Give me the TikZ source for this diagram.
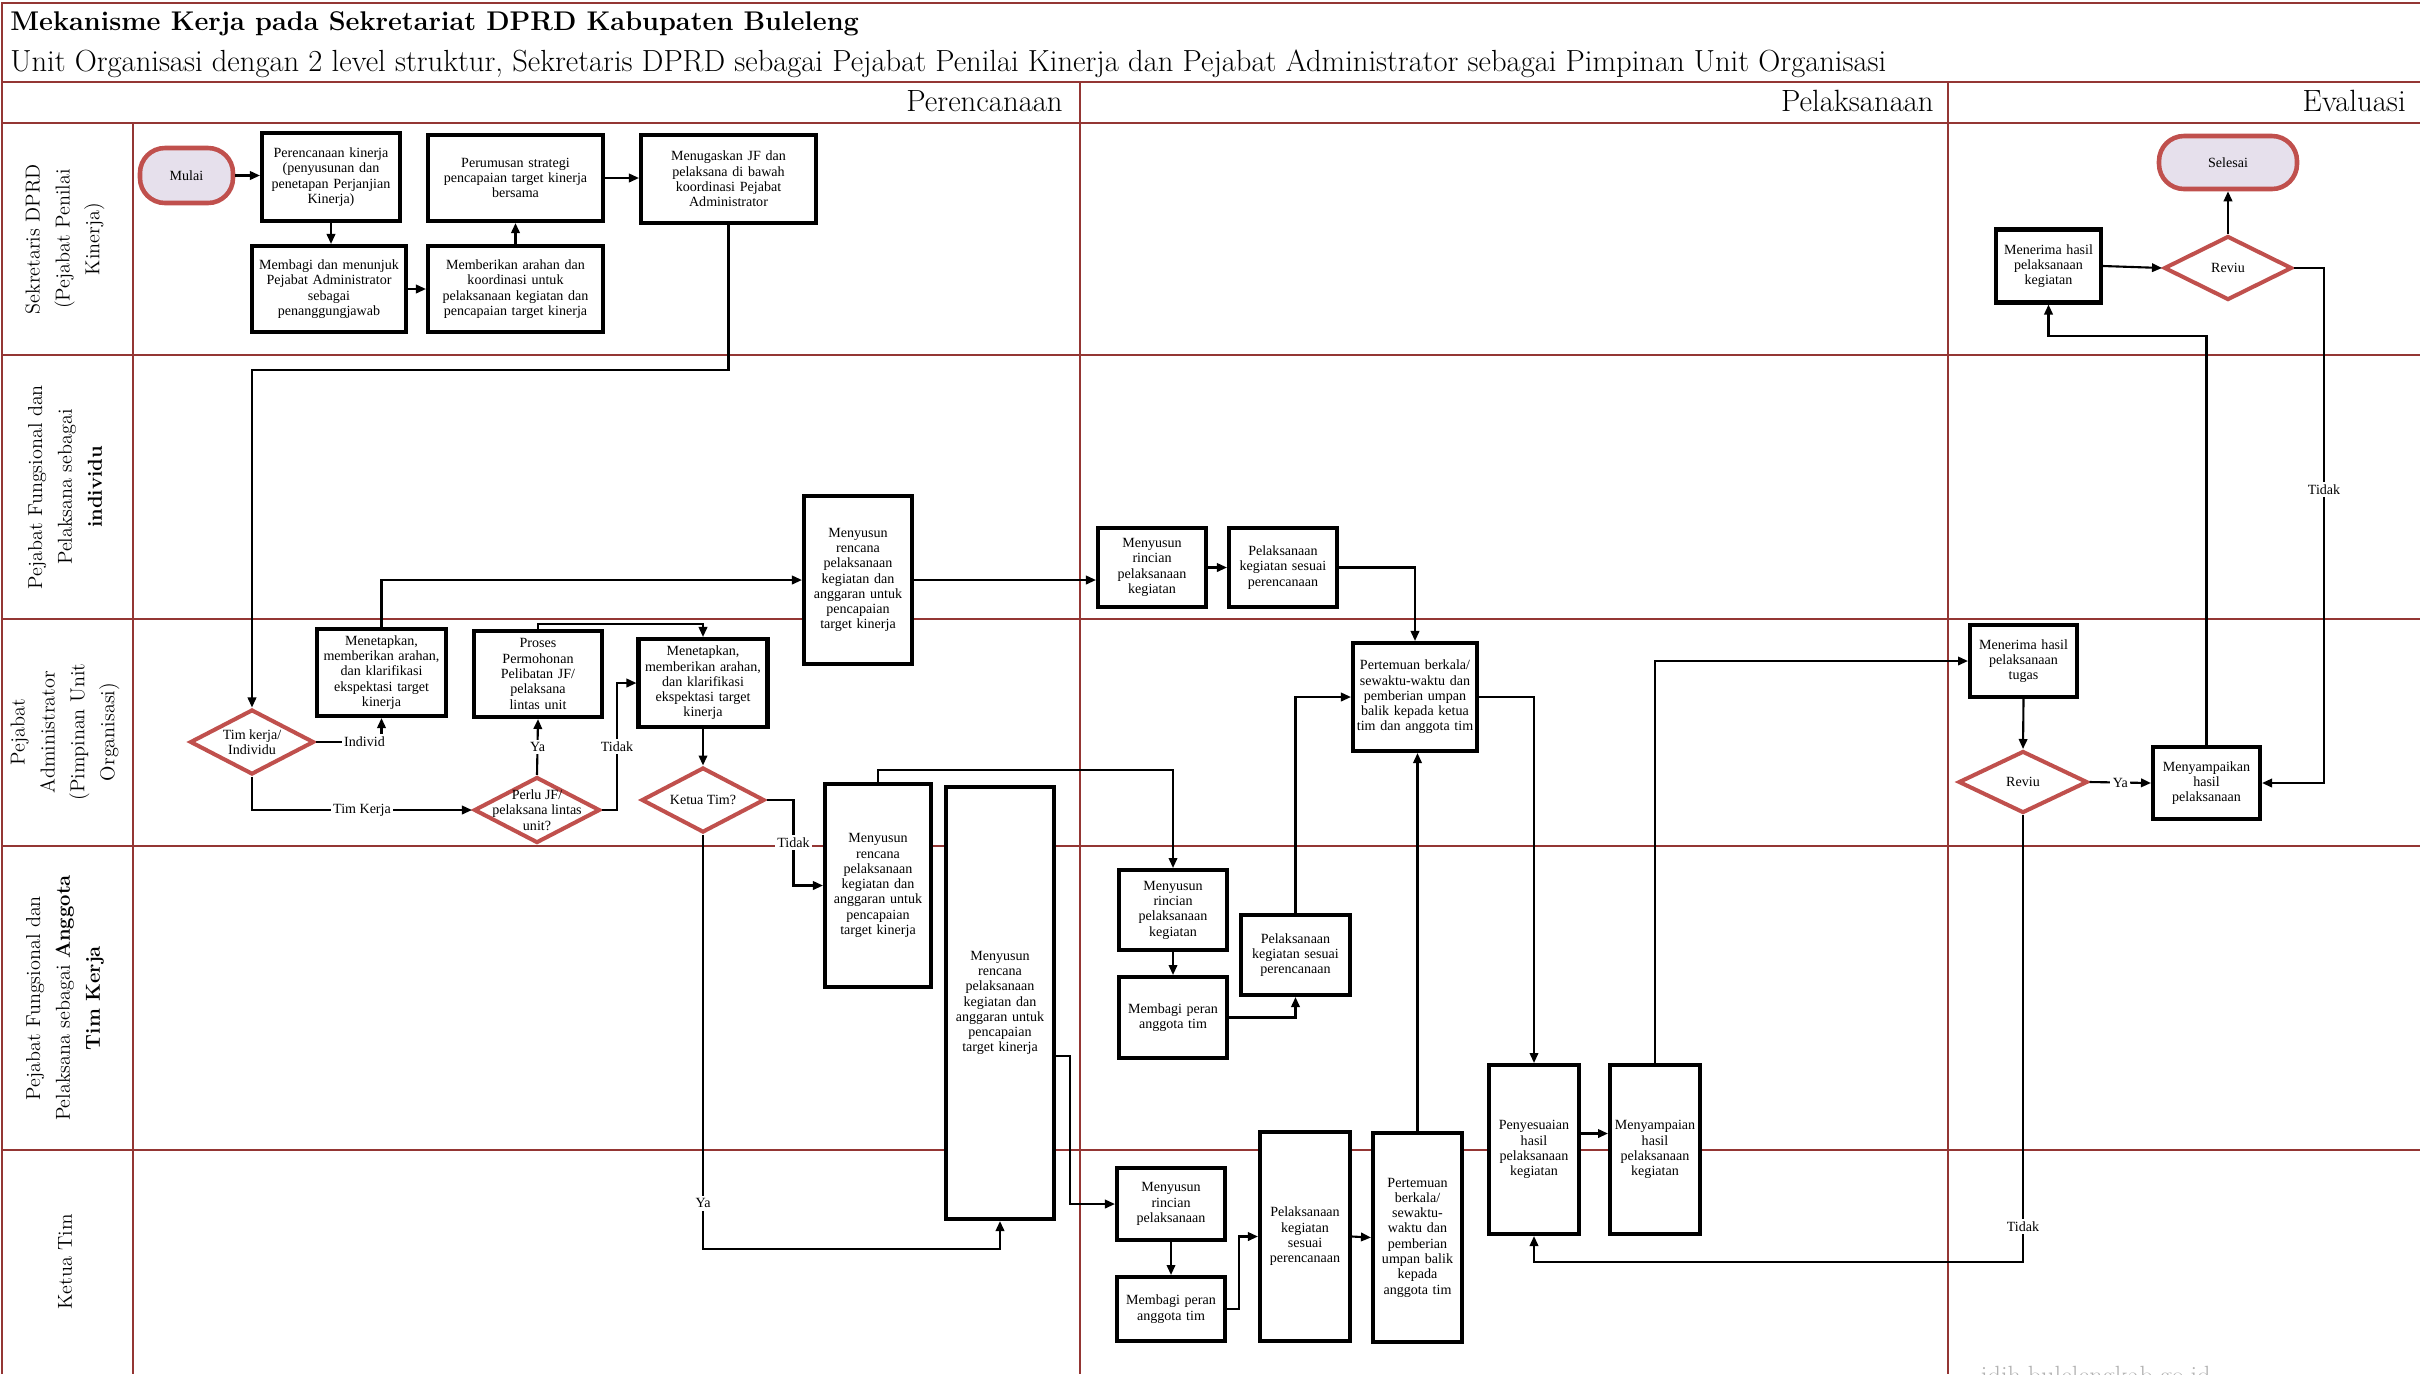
\documentclass[tikz,border=0pt]{standalone}
\usepackage{fontspec}
\newfontfamily\kotakfont{Liberation Serif}
\usepackage{tikz}
\usetikzlibrary{arrows.meta,shapes.geometric,calc}
\definecolor{garislajur}{HTML}{943634}
\definecolor{merahbelah}{HTML}{C0504D}
\definecolor{isiterminal}{HTML}{E6E0EC}
\newcommand{\upx}{0.02cm}
\tikzstyle{lajur}=[draw=garislajur, line width=1.2pt]
\tikzstyle{box}=[draw, line width=2.3pt, fill=white, align=center, inner sep=1pt, font=\kotakfont\fontsize{8}{8.7}\selectfont]
\tikzstyle{dec}=[diamond, draw=merahbelah, line width=2.3pt, fill=white, inner sep=0pt]
\tikzstyle{dectext}=[align=center, inner sep=0pt, font=\kotakfont\fontsize{8}{8.7}\selectfont]
\tikzstyle{term}=[draw=merahbelah, line width=2.6pt, fill=isiterminal, rounded corners=0.5cm, font=\kotakfont\fontsize{8}{8.7}\selectfont]
\tikzstyle{arr}=[line width=1.2pt, -{Triangle[length=0.2cm,width=0.17cm]}]
\tikzstyle{lbl}=[fill=white, inner sep=1.5pt, font=\kotakfont\fontsize{8}{8.7}\selectfont]
\tikzstyle{lanelabel}=[rotate=90, align=center, font=\fontsize{11.5}{17}\selectfont]
\tikzstyle{kepala}=[anchor=base east, inner sep=0pt, font=\fontsize{17.5}{20}\selectfont]
% kotak proses: nama, pusat, lebar, tinggi, teks (ukuran dalam px)
\newcommand{\kotak}[5]{%
	\pgfmathsetlengthmacro{\lebarteks}{#3*\upx-2pt}%
	\node[box, minimum width=#3*\upx, minimum height=#4*\upx, text width=\lebarteks] (#1) at #2 {#5};
}
% belah ketupat keputusan: nama, pusat, lebar, tinggi, teks
\newcommand{\belah}[5]{%
	\node[dec, minimum width=#3*\upx, minimum height=#4*\upx, label={[dectext]center:{#5}}] (#1) at #2 {};
}
\begin{document}
\begin{tikzpicture}[x=\upx, y=-\upx]
\useasboundingbox (0,0) rectangle (2420,1374);
%
% bingkai dan lajur
\draw[lajur] (2,1374) -- (2,3) -- (2420,3);
\draw[lajur] (2,82) -- (2420,82);
\draw[lajur] (2,123) -- (2420,123);
\foreach \yy in {355,619,846,1150} \draw[lajur] (2,\yy) -- (2420,\yy);
\draw[lajur] (133,123) -- (133,1374);
\foreach \xx in {1080,1948} \draw[lajur] (\xx,82) -- (\xx,1374);
%
\node[anchor=base west, inner sep=0pt, font=\fontsize{15.4}{18}\selectfont\bfseries] (judul) at (10,30) {Mekanisme Kerja pada Sekretariat DPRD Kabupaten Buleleng};
\node[anchor=base west, inner sep=0pt, font=\fontsize{17.4}{20}\selectfont] (subjudul) at (10,71) {Unit Organisasi dengan 2 level struktur, Sekretaris DPRD sebagai Pejabat Penilai Kinerja dan Pejabat Administrator sebagai Pimpinan Unit Organisasi};
\node[kepala] (hrenc) at (1063,111) {Perencanaan};
\node[kepala] (hlaks) at (1934,111) {Pelaksanaan};
\node[kepala] (heval) at (2406,111) {Evaluasi};
%
\node[lanelabel] (l1) at (65,239) {Sekretaris DPRD\\(Pejabat Penilai\\Kinerja)};
\node[lanelabel] (l2) at (65,487) {Pejabat Fungsional dan\\Pelaksana sebagai\\\textbf{individu}};
\node[lanelabel] (l3) at (65,732) {Pejabat\\Administrator\\(Pimpinan Unit\\Organisasi)};
\node[lanelabel] (l4) at (65,998) {Pejabat Fungsional dan\\Pelaksana sebagai \textbf{Anggota}\\\textbf{Tim Kerja}};
\node[lanelabel] (l5) at (65,1262) {Ketua Tim};
%
% Sekretaris DPRD
\node[term, minimum width=93*\upx, minimum height=55*\upx] (mulai) at (186.5,175.5) {Mulai};
\kotak{renc}{(331,177)}{138}{88}{Perencanaan kinerja\\(penyusunan dan\\penetapan Perjanjian\\Kinerja)}
\kotak{rumus}{(515.5,178)}{175}{86}{Perumusan strategi\\pencapaian target kinerja\\bersama}
\kotak{tugas}{(728.5,179)}{175}{88}{Menugaskan JF dan\\pelaksana di bawah\\koordinasi Pejabat\\Administrator}
\kotak{bagi}{(329,289)}{154}{86}{Membagi dan menunjuk\\Pejabat Administrator\\sebagai\\penanggungjawab}
\kotak{arah}{(515.5,289)}{175}{86}{Memberikan arahan dan\\koordinasi untuk\\pelaksanaan kegiatan dan\\pencapaian target kinerja}
\kotak{mkeg}{(2048.5,266)}{105}{73}{Menerima hasil\\pelaksanaan\\kegiatan}
\belah{rev1}{(2228,268)}{128}{64}{Reviu}
\node[term, minimum width=138*\upx, minimum height=53*\upx] (selesai) at (2228,162.5) {Selesai};
%
% individu
\kotak{rind}{(858,580)}{108}{168}{Menyusun\\rencana\\pelaksanaan\\kegiatan dan\\anggaran untuk\\pencapaian\\target kinerja}
\kotak{rinc1}{(1152,567.5)}{108}{79}{Menyusun\\rincian\\pelaksanaan\\kegiatan}
\kotak{pel1}{(1283,567.5)}{108}{79}{Pelaksanaan\\kegiatan sesuai\\perencanaan}
%
% Pejabat Administrator
\belah{tk}{(252,742)}{124}{65}{Tim kerja/\\Individu}
\kotak{tetap1}{(381.5,672.5)}{129}{87}{Menetapkan,\\memberikan arahan,\\dan klarifikasi\\ekspektasi target\\kinerja}
\belah{pj}{(537,810)}{126}{66}{Perlu JF/\\pelaksana lintas\\unit?}
\kotak{proses}{(538,674)}{128}{86}{Proses\\Permohonan\\Pelibatan JF/\\pelaksana\\lintas unit}
\kotak{tetap2}{(703,683)}{129}{88}{Menetapkan,\\memberikan arahan,\\dan klarifikasi\\ekspektasi target\\kinerja}
\belah{kt}{(703,800)}{123}{65}{Ketua Tim?}
\kotak{pert1}{(1415,697)}{124}{108}{Pertemuan berkala/\\sewaktu-waktu dan\\pemberian umpan\\balik kepada ketua\\tim dan anggota tim}
\kotak{mtugas}{(2023.5,661)}{107}{72}{Menerima hasil\\pelaksanaan\\tugas}
\belah{rev2}{(2023,782)}{129}{62}{Reviu}
\kotak{sampaik}{(2206.5,783)}{107}{72}{Menyampaikan\\hasil\\pelaksanaan}
%
% anggota tim kerja
\kotak{ranggota}{(878,885.5)}{106}{203}{Menyusun\\rencana\\pelaksanaan\\kegiatan dan\\anggaran untuk\\pencapaian\\target kinerja}
\kotak{rketua}{(1000,1003)}{108}{432}{Menyusun\\rencana\\pelaksanaan\\kegiatan dan\\anggaran untuk\\pencapaian\\target kinerja}
\kotak{rinc2}{(1173,910)}{108}{80}{Menyusun\\rincian\\pelaksanaan\\kegiatan}
\kotak{bagi2}{(1173,1017.5)}{108}{81}{Membagi peran\\anggota tim}
\kotak{pel2}{(1295.5,955)}{109}{80}{Pelaksanaan\\kegiatan sesuai\\perencanaan}
%
% ketua tim
\kotak{rinc3}{(1171,1204)}{108}{72}{Menyusun\\rincian\\pelaksanaan}
\kotak{bagi3}{(1171,1309)}{108}{64}{Membagi peran\\anggota tim}
\kotak{pel3}{(1305,1236.5)}{90}{209}{Pelaksanaan\\kegiatan\\sesuai\\perencanaan}
\kotak{pert2}{(1417.5,1237.5)}{89}{209}{Pertemuan\\berkala/\\sewaktu-\\waktu dan\\pemberian\\umpan balik\\kepada\\anggota tim}
\kotak{penye}{(1534,1149.5)}{90}{169}{Penyesuaian\\hasil\\pelaksanaan\\kegiatan}
\kotak{sampai}{(1655,1149.5)}{90}{169}{Menyampaian\\hasil\\pelaksanaan\\kegiatan}
%
\node[anchor=base west, inner sep=0pt, text=black!30, font=\fontsize{15}{18}\selectfont] (web) at (1980,1384) {jdih.bulelengkab.go.id};
%
% alur perencanaan
\draw[arr] (mulai.east) -- (mulai.east -| renc.west);
\draw[arr] (renc.south) -- (renc.south |- bagi.north);
\draw[arr] (bagi.east) -- (bagi.east -| arah.west);
\draw[arr] (arah.north) -- (arah.north |- rumus.south);
\draw[arr] (rumus.east) -- (rumus.east -| tugas.west);
\draw[arr] (tugas.south) -- (tugas.south |- 0,370) -| (tk.north);
\draw[arr] (tk.east) -| node[lbl, pos=0.37] {Individ} (tetap1.south);
\draw[arr] (tetap1.north) |- (rind.west);
\draw[arr] (tk.south) |- node[lbl, pos=0.75] {Tim Kerja} (pj.west);
\draw[arr] (pj.north) -- node[lbl] {Ya} (proses.south);
\draw[arr] (pj.east) -- ++(15,0) |- node[lbl, pos=0.25] {Tidak} (tetap2.west);
\draw[arr] (proses.north) -- ++(0,-5) -| (tetap2.north);
\draw[arr] (tetap2.south) -- (kt.north);
\draw[arr] (kt.east) -- ++(27,0) |- node[lbl, pos=0.25] {Tidak} (ranggota.west);
\draw[arr] (kt.south) -- node[lbl, pos=0.89] {Ya} (kt.south |- 0,1249) -| (rketua.south);
%
% alur pelaksanaan
\draw[arr] (rind.east) -- (rind.east -| rinc1.west);
\draw[arr] (rinc1.east) -- (pel1.west);
\draw[arr] (pel1.east) -| (pert1.north);
\draw[arr] (ranggota.north) -- ++(0,-12) -| (rinc2.north);
\draw[arr] (rinc2.south) -- (bagi2.north);
\draw[arr] (bagi2.east) -| (pel2.south);
\draw[arr] (pel2.north) |- (pert1.west);
\draw[arr] (rketua.east |- 0,1056) -- ++(14,0) |- (rinc3.west);
\draw[arr] (rinc3.south) -- (bagi3.north);
\draw[arr] (bagi3.east) -- ++(12,0) |- (pel3.west);
\draw[arr] (pel3.east) -- (pert2.west);
\draw[arr] (pert2.north) -- (pert2.north |- pert1.south);
\draw[arr] (pert1.east) -| (penye.north);
\draw[arr] ($(penye.east)+(0,-16)$) -- ($(sampai.west)+(0,-16)$);
\draw[arr] (sampai.north) |- (mtugas.west);
%
% alur evaluasi
\draw[arr] (mtugas.south) -- (rev2.north);
\draw[arr] (rev2.east) -- node[lbl] {Ya} (sampaik.west);
\draw[arr] (rev2.south) -- node[lbl, pos=0.92] {Tidak} (rev2.south |- 0,1262) -| (penye.south);
\draw[arr] (sampaik.north) -- (sampaik.north |- 0,336) -| (mkeg.south);
\draw[arr] (rev1.east) -- ++(30,0) |- node[lbl, pos=0.215] {Tidak} (sampaik.east);
\draw[arr] (mkeg.east) -- (rev1.west);
\draw[arr] (rev1.north) -- (selesai.south);
\end{tikzpicture}
\end{document}
